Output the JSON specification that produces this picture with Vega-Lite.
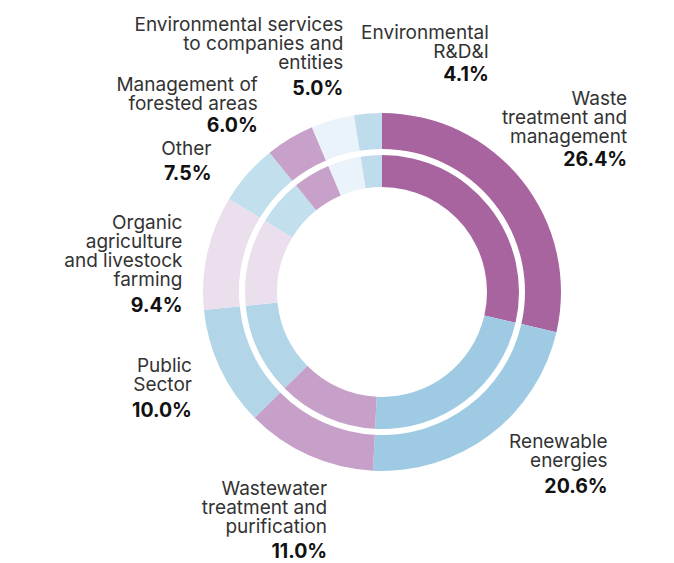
{
  "$schema": "https://vega.github.io/schema/vega-lite/v6.json",
  "width": 584,
  "height": 542,
  "autosize": {"type": "none"},
  "padding": {"left": 90, "top": 21, "right": 0, "bottom": 0},
  "background": "white",
  "config": {"view": {"stroke": null}},
  "data": {
    "values": [
      {"rank": 1, "sector": "Waste\ntreatment and\nmanagement", "pct": "26.4%", "share": 28.6},
      {"rank": 2, "sector": "Renewable\nenergies", "pct": "20.6%", "share": 22.2},
      {"rank": 3, "sector": "Wastewater\ntreatment and\npurification", "pct": "11.0%", "share": 11.8},
      {"rank": 4, "sector": "Public\nSector", "pct": "10.0%", "share": 10.8},
      {"rank": 5, "sector": "Organic\nagriculture\nand livestock\nfarming", "pct": "9.4%", "share": 10.3},
      {"rank": 6, "sector": "Other", "pct": "7.5%", "share": 5.5},
      {"rank": 7, "sector": "Management of\nforested areas", "pct": "6.0%", "share": 4.4},
      {"rank": 8, "sector": "Environmental services\nto companies and\nentities", "pct": "5.0%", "share": 3.9},
      {"rank": 9, "sector": "Environmental\nR&D&I", "pct": "4.1%", "share": 2.5}
    ]
  },
  "encoding": {
    "theta": {"field": "share", "type": "quantitative", "stack": true},
    "order": {"field": "rank", "type": "quantitative", "sort": "ascending"}
  },
  "layer": [
    {
      "mark": {"type": "arc", "radius": 179, "radius2": 143},
      "encoding": {
        "color": {
          "field": "rank", "type": "nominal", "legend": null,
          "scale": {
            "domain": [1, 2, 3, 4, 5, 6, 7, 8, 9],
            "range": ["#a8649e", "#9ecbe3", "#c6a0c9", "#b2d6e8", "#ebdfee", "#c2dfee", "#c7a1c9", "#eaf3f9", "#bfdced"]
          }
        }
      }
    },
    {
      "mark": {"type": "arc", "radius": 137, "radius2": 105},
      "encoding": {
        "color": {"field": "rank", "type": "nominal", "legend": null}
      }
    },
    {
      "mark": {
        "type": "text", "radius": 220, "align": "right", "baseline": "alphabetic",
        "lineBreak": "\n", "font": "Inter", "fontSize": 19, "lineHeight": 19, "fill": "#333333",
        "dx": {"expr": "[73, 93, 35, 9, 15, -5, -11, 22, 124][datum.rank - 1]"},
        "dy": {"expr": "[-50, -20, 2, -14, -14, 8, -12, -50, -34][datum.rank - 1]"}
      },
      "encoding": {
        "text": {"field": "sector", "type": "nominal"},
        "detail": {"field": "rank", "type": "nominal"}
      }
    },
    {
      "mark": {
        "type": "text", "radius": 220, "align": "right", "baseline": "alphabetic",
        "font": "Inter", "fontSize": 19.5, "fontWeight": "bold", "fill": "#111111",
        "dx": {"expr": "[73, 93, 35, 9, 15, -5, -11, 22, 124][datum.rank - 1]"},
        "dy": {"expr": "[11, 25, 65, 31, 69, 33, 29, 14, 8][datum.rank - 1]"}
      },
      "encoding": {
        "text": {"field": "pct", "type": "nominal"},
        "detail": {"field": "rank", "type": "nominal"}
      }
    }
  ]
}
